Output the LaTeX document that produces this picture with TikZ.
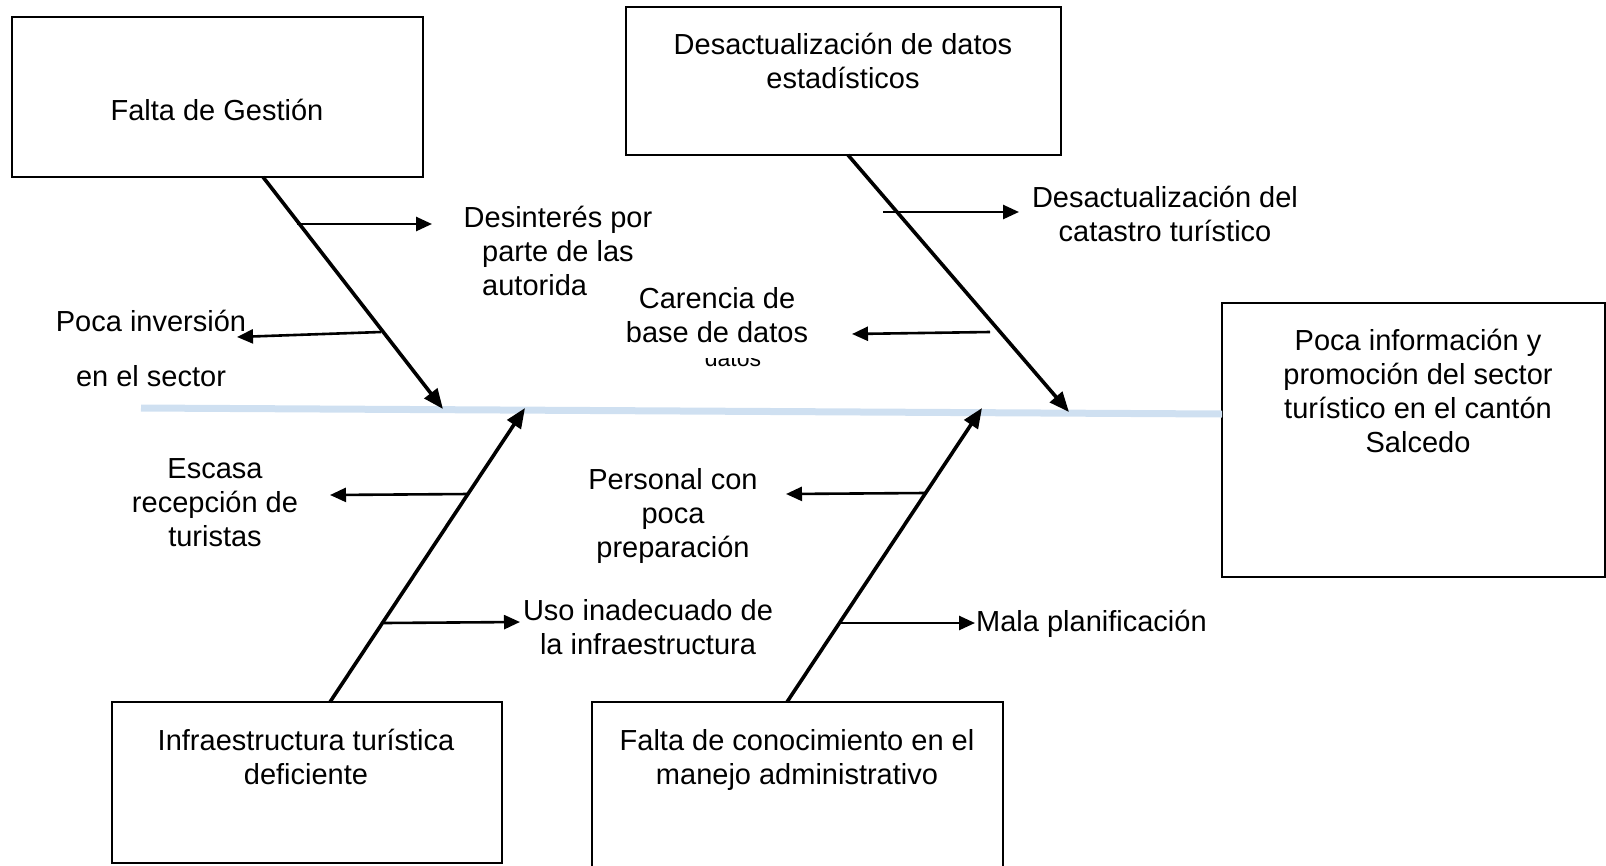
\documentclass[tikz,border=0pt]{standalone}
\usepackage{fontspec}
\setmainfont{Liberation Sans}
\usetikzlibrary{arrows.meta}
\definecolor{spinec}{RGB}{207,224,241}
\begin{document}
\begin{tikzpicture}[x=1pt,y=-1pt,
  box/.style={draw=black,line width=1.8pt,inner sep=0pt},
  lbl/.style={inner sep=0pt,align=center,font=\fontsize{29}{34}\selectfont},
  bone/.style={line width=3.6pt,-{Triangle[length=20pt,width=16pt]}},
  subarrow/.style={line width=2.6pt,-{Triangle[length=16pt,width=14pt]}},
  spineline/.style={line width=7pt,draw=spinec}]
\useasboundingbox (0,0) rectangle (1606,865);

% boxes
\node[box,minimum width=411pt,minimum height=160pt] (fg) at (217.5,97) {};
\node[box,minimum width=435pt,minimum height=148pt] (dd) at (843.5,81) {};
\node[box,minimum width=383pt,minimum height=274pt] (ef) at (1413.5,440) {};
\node[box,minimum width=390pt,minimum height=161pt] (ib) at (307,782.5) {};
\node[box,minimum width=411pt,minimum height=176pt] (fc) at (797.5,790) {};

% box texts
\node[lbl] (fgt) at (217,110) {Falta de Gestión};
\node[lbl] (ddt) at (843,61) {Desactualización de datos\\estadísticos};
\node[lbl] (eft) at (1418,391) {Poca información y\\promoción del sector\\turístico en el cantón\\Salcedo};
\node[lbl] (ibt) at (306,757) {Infraestructura turística\\deficiente};
\node[lbl] (fct) at (797,760) {Falta de conocimiento en el\\manejo administrativo};

% spine
\coordinate (sp0) at (141,408);
\coordinate (sp1) at (1222,414);
\draw[spineline] (sp0) -- (sp1);

% bones
\coordinate (b1s) at (263,177);
\coordinate (t1) at (443,409);
\coordinate (b2s) at (848,155);
\coordinate (t2) at (1069,412);
\coordinate (b3s) at (330,702);
\coordinate (t3) at (525,408);
\coordinate (b4s) at (787,702);
\coordinate (t4) at (982,408);
\draw[bone] (b1s) -- (t1);
\draw[bone] (b2s) -- (t2);
\draw[bone] (b3s) -- (t3);
\draw[bone] (b4s) -- (t4);

% sub-causes
\coordinate (a1s) at (297,224);  \coordinate (a1e) at (432,224);
\coordinate (a2s) at (381,332);  \coordinate (a2e) at (237,337);
\coordinate (a3s) at (883,212);  \coordinate (a3e) at (1019,212);
\coordinate (a4s) at (990,332);  \coordinate (a4e) at (852,334);
\coordinate (a5s) at (469,494);  \coordinate (a5e) at (330,495);
\coordinate (a6s) at (384,623);  \coordinate (a6e) at (520,622);
\coordinate (a7s) at (925,493);  \coordinate (a7e) at (786,494);
\coordinate (a8s) at (840,623);  \coordinate (a8e) at (975,623);
\draw[subarrow] (a1s) -- (a1e);
\draw[subarrow] (a2s) -- (a2e);
\draw[subarrow] (a3s) -- (a3e);
\draw[subarrow] (a4s) -- (a4e);
\draw[subarrow] (a5s) -- (a5e);
\draw[subarrow] (a6s) -- (a6e);
\draw[subarrow] (a7s) -- (a7e);
\draw[subarrow] (a8s) -- (a8e);

% sub-cause labels
\node[lbl] (l1) at (558,251) {Desinterés por\\parte de las\\autorida\phantom{des}};
\node[lbl] (l2a) at (151,321) {Poca inversión};
\node[lbl] (l2b) at (151,376) {en el sector};
\node[lbl] (l3) at (1165,214) {Desactualización del\\catastro turístico};
\node[lbl] (l4) at (717,315.5) {Carencia de\\base de datos};
\begin{scope}
  \clip (690,358) rectangle (780,375);
  \node[inner sep=0pt,anchor=base,font=\fontsize{23}{27}\selectfont] (l4b) at (733,366) {datos};
\end{scope}
\node[lbl] (l5) at (215,503) {Escasa\\recepción de\\turistas};
\node[lbl] (l6) at (648,627) {Uso inadecuado de\\la infraestructura};
\node[lbl] (l7) at (673,516) {Personal con\\poca\\preparación};
\node[lbl,anchor=west] (l8) at (976,624) {Mala planificación};
\end{tikzpicture}
\end{document}
